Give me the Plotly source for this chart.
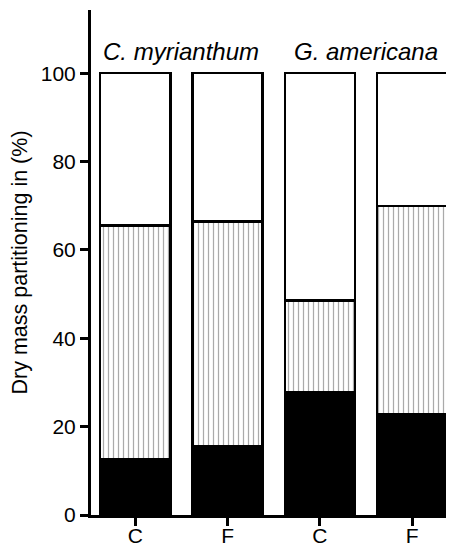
import plotly.graph_objects as go

tick_labels = ["C", "F", "C", "F"]
species = ["C. myrianthum", "G. americana"]
bottom_black = [12.7, 15.5, 27.7, 22.9]
middle_hatched = [52.8, 50.9, 20.9, 47.0]
top_white = [34.5, 33.6, 51.4, 30.1]

xs = list(range(len(tick_labels)))
fig = go.Figure()
line = dict(color="black", width=2.5)
fig.add_bar(x=xs, y=bottom_black, marker=dict(color="black", line=line), width=0.76)
fig.add_bar(x=xs, y=middle_hatched, width=0.76,
            marker=dict(color="white", line=line,
                        pattern=dict(shape="|", size=5, solidity=0.25,
                                     fgcolor="#555555", bgcolor="white", fillmode="overlay")))
fig.add_bar(x=xs, y=top_white, marker=dict(color="white", line=line), width=0.76)

for i, s in enumerate(species):
    fig.add_annotation(x=2 * i + 0.5, y=100, yshift=22, text=f"<i>{s}</i>", showarrow=False,
                       font=dict(size=24, color="black", family="Liberation Sans"),
                       xref="x", yref="y")

# page body has an 8px default margin; size the figure to fit the window
fig.update_layout(
    barmode="stack", showlegend=False, width=446, height=539,
    margin=dict(l=83, r=3, t=2, b=32),
    plot_bgcolor="white", paper_bgcolor="white",
    font=dict(family="Liberation Sans", size=21, color="black"),
    xaxis=dict(tickvals=xs, ticktext=tick_labels, range=[-0.48, 3.42], automargin=False,
               showline=True, linecolor="black", linewidth=3,
               ticks="outside", ticklen=8, tickwidth=3, tickcolor="black",
               ticklabelstandoff=-8,
               showgrid=False, zeroline=False),
    yaxis=dict(range=[0, 114.3], tickvals=[0, 20, 40, 60, 80, 100], automargin=False,
               showline=True, linecolor="black", linewidth=3,
               ticks="outside", ticklen=8, tickwidth=3, tickcolor="black",
               showgrid=False, zeroline=False,
               title=dict(text="Dry mass partitioning in (%)", standoff=12,
                          font=dict(size=21.5, family="Liberation Sans", color="black"))),
)
fig.write_html("out.html")
